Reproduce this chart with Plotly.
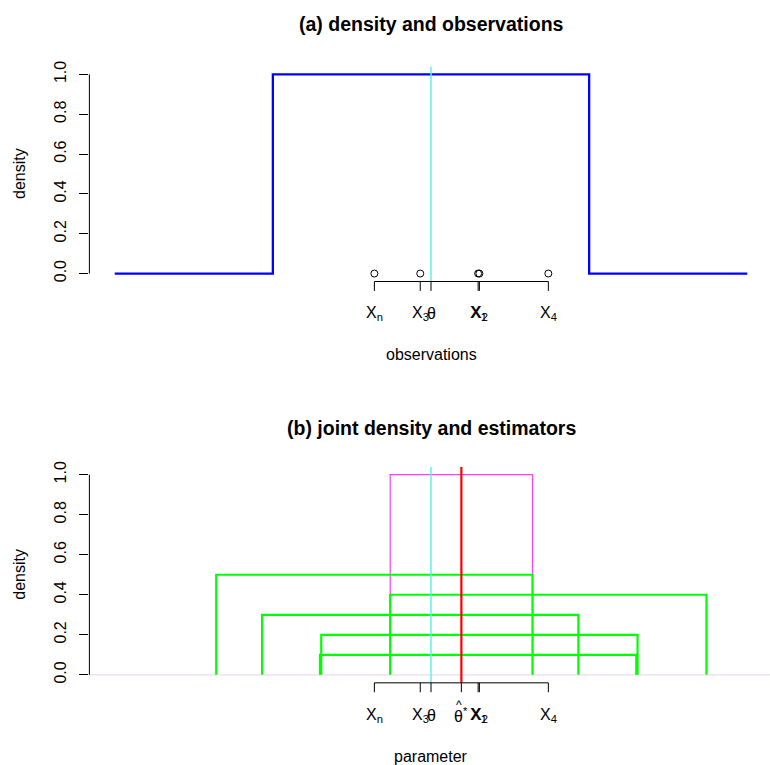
import plotly.graph_objects as go

# ---- data -------------------------------------------------------------
theta = 0.0                                   # true location parameter
obs_values = [0.149, 0.153, -0.034, 0.371, -0.179]   # X1, X2, X3, X4, Xn
obs_labels = ["X<sub>1</sub>", "X<sub>2</sub>", "X<sub>3</sub>",
              "X<sub>4</sub>", "X<sub>n</sub>"]
box_heights = [0.1, 0.2, 0.3, 0.4, 0.5]      # display heights of each likelihood factor

# uniform density on [theta - 1/2, theta + 1/2], shown over theta +/- 1
dens_x = [theta - 1, theta - 0.5, theta - 0.5, theta + 0.5, theta + 0.5, theta + 1]
dens_y = [0, 0, 1, 1, 0, 0]

y_ticks = [0.0, 0.2, 0.4, 0.6, 0.8, 1.0]
y_ticktext = ["0.0", "0.2", "0.4", "0.6", "0.8", "1.0"]

# joint density support and the midpoint estimator
lo = max(obs_values) - 0.5
hi = min(obs_values) + 0.5
theta_hat = (max(obs_values) + min(obs_values)) / 2

# ---- page geometry ----------------------------------------------------
W, H = 770, 765
FONT = "Liberation Sans"
px_per_unit = 316.3
x_left_px = 89.4
x_range = [theta - 1.08, theta - 1.08 + (W - x_left_px) / px_per_unit]
x_dom = [x_left_px / W, 1.0]


def py(p):
    return 1 - p / H


def y_domain(px0, px1):
    # px0: pixel row of density 0, px1: pixel row of density 1
    s = px0 - px1
    return [py(px0 + 0.04 * s), py(px1 - 0.04 * s)]


top_dom = y_domain(270, 69)
bot_dom = y_domain(675, 473)

BLUE = "#0000ff"
GREEN = "#00ff00"
CYAN = "#5ef0f2"
RED = "#ff0000"
MAGENTA = "#ff3cff"
PALE = "#eedcee"

fig = go.Figure()

# ---- panel (a) ----------------------------------------------------------
fig.add_trace(go.Scatter(x=dens_x, y=dens_y, mode="lines", xaxis="x", yaxis="y",
                         line=dict(color=BLUE, width=2.3), hoverinfo="skip"))
fig.add_trace(go.Scatter(x=[theta, theta], y=[-0.04, 1.04], mode="lines",
                         xaxis="x", yaxis="y",
                         line=dict(color=CYAN, width=1.5), hoverinfo="skip"))
fig.add_trace(go.Scatter(x=obs_values, y=[0] * len(obs_values), mode="markers",
                         xaxis="x", yaxis="y",
                         marker=dict(symbol="circle-open", size=7, color="black",
                                     line=dict(width=1, color="black")),
                         hoverinfo="skip"))

# ---- panel (b) ----------------------------------------------------------
# joint density: indicator of [lo, hi]
fig.add_trace(go.Scatter(x=[theta - 1.5, theta + 1.5], y=[0, 0], mode="lines",
                         xaxis="x2", yaxis="y2",
                         line=dict(color=PALE, width=1.2), hoverinfo="skip"))
fig.add_trace(go.Scatter(x=[lo, lo, hi, hi], y=[0, 1, 1, 0], mode="lines",
                         xaxis="x2", yaxis="y2",
                         line=dict(color=MAGENTA, width=1.2), hoverinfo="skip"))
# individual likelihood factors
for xv, h in zip(obs_values, box_heights):
    fig.add_trace(go.Scatter(x=[xv - 0.5, xv - 0.5, xv + 0.5, xv + 0.5],
                             y=[0, h, h, 0], mode="lines",
                             xaxis="x2", yaxis="y2",
                             line=dict(color=GREEN, width=2.2), hoverinfo="skip"))
fig.add_trace(go.Scatter(x=[theta, theta], y=[-0.04, 1.04], mode="lines",
                         xaxis="x2", yaxis="y2",
                         line=dict(color=CYAN, width=1.5), hoverinfo="skip"))
fig.add_trace(go.Scatter(x=[theta_hat, theta_hat], y=[-0.04, 1.04], mode="lines",
                         xaxis="x2", yaxis="y2",
                         line=dict(color=RED, width=2.2), hoverinfo="skip"))

shapes = []
annotations = []
TICK = 9.5 / H


def obs_axis(xref, dom, positions):
    base = dom[0]
    shapes.append(dict(type="line", xref=xref, yref="paper",
                       x0=min(positions), x1=max(positions), y0=base, y1=base,
                       line=dict(color="black", width=1)))
    for p in positions:
        shapes.append(dict(type="line", xref=xref, yref="paper",
                           x0=p, x1=p, y0=base, y1=base - TICK,
                           line=dict(color="black", width=1)))


def y_axis_line(xaxis_id, yref):
    shapes.append(dict(type="line", xref=xaxis_id + " domain", yref=yref,
                       x0=0, x1=0, y0=0, y1=1,
                       line=dict(color="black", width=1)))


# panel (a) axis and labels
obs_axis("x", top_dom, obs_values + [theta])
y_axis_line("x", "y")
lab_y_top = py(310)
for xv, lab in zip(obs_values, obs_labels):
    annotations.append(dict(x=xv, y=lab_y_top, xref="x", yref="paper", text=lab,
                            showarrow=False, xanchor="center", yanchor="middle",
                            font=dict(family=FONT, size=16, color="black")))
annotations.append(dict(x=theta, y=lab_y_top, xref="x", yref="paper", text="θ",
                        showarrow=False, xanchor="center", yanchor="middle",
                        font=dict(family=FONT, size=16, color="black")))

# panel (b) axis and labels
obs_axis("x2", bot_dom, obs_values + [theta, theta_hat])
y_axis_line("x2", "y2")
lab_y_bot = py(716)
for xv, lab in zip(obs_values, obs_labels):
    annotations.append(dict(x=xv, y=lab_y_bot, xref="x2", yref="paper", text=lab,
                            showarrow=False, xanchor="center", yanchor="middle",
                            font=dict(family=FONT, size=16, color="black")))
annotations.append(dict(x=theta, y=lab_y_bot, xref="x2", yref="paper", text="θ",
                        showarrow=False, xanchor="center", yanchor="middle",
                        font=dict(family=FONT, size=16, color="black")))
annotations.append(dict(x=theta_hat, y=lab_y_bot, xref="x2", yref="paper",
                        text="θ<sup>*</sup>",
                        showarrow=False, xanchor="center", yanchor="middle",
                        font=dict(family=FONT, size=16, color="black")))
annotations.append(dict(x=theta_hat, y=py(705), xref="x2", yref="paper", text="^",
                        showarrow=False, xanchor="center", yanchor="middle",
                        xshift=-2,
                        font=dict(family=FONT, size=12, color="black")))

# titles and axis captions
for txt, ypx in [("<b>(a) density and observations</b>", 18),
                 ("<b>(b) joint density and estimators</b>", 426)]:
    annotations.append(dict(x=431 / W, y=py(ypx), xref="paper", yref="paper",
                            text=txt, showarrow=False, xanchor="center",
                            yanchor="middle",
                            font=dict(family=FONT, size=19.5, color="black")))
for txt, ypx in [("observations", 352), ("parameter", 757)]:
    annotations.append(dict(x=431 / W, y=py(ypx), xref="paper", yref="paper",
                            text=txt, showarrow=False, xanchor="center",
                            yanchor="middle",
                            font=dict(family=FONT, size=16, color="black")))
for dom in (top_dom, bot_dom):
    annotations.append(dict(x=20 / W, y=(dom[0] + dom[1]) / 2, xref="paper",
                            yref="paper", text="density", textangle=-90,
                            showarrow=False, xanchor="center", yanchor="middle",
                            font=dict(family=FONT, size=16, color="black")))

xaxis_common = dict(range=x_range, domain=x_dom, visible=False, fixedrange=True)
yaxis_common = dict(range=[-0.04, 1.04], tickvals=y_ticks, ticktext=y_ticktext,
                    tickangle=-90, ticks="outside", ticklen=9, tickwidth=1,
                    tickcolor="black", showline=False, showgrid=False,
                    zeroline=False, ticklabelstandoff=7,
                    tickfont=dict(family=FONT, size=16, color="black"))

fig.update_layout(
    width=W, height=H,
    margin=dict(l=0, r=0, t=0, b=0),
    paper_bgcolor="white", plot_bgcolor="white",
    showlegend=False,
    xaxis=dict(**xaxis_common, anchor="y"),
    yaxis=dict(**yaxis_common, domain=top_dom, anchor="x"),
    xaxis2=dict(**xaxis_common, anchor="y2"),
    yaxis2=dict(**yaxis_common, domain=bot_dom, anchor="x2"),
    shapes=shapes,
    annotations=annotations,
)

fig.write_html("out.html")
